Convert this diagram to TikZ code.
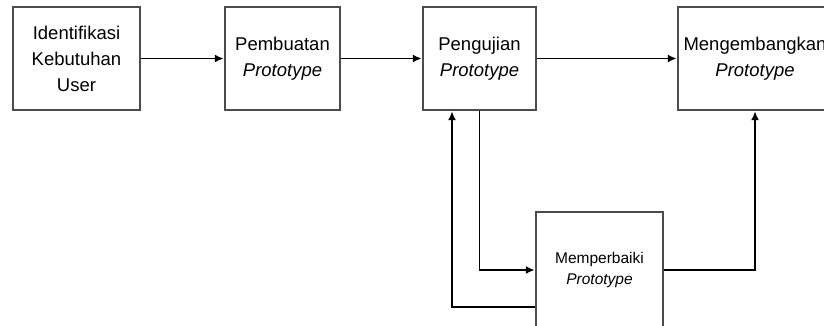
\documentclass[tikz,border=0pt]{standalone}
\usepackage{fontspec}
\setmainfont{Liberation Sans}
\usetikzlibrary{arrows.meta}

\begin{document}
\begin{tikzpicture}[x=1pt,y=-1pt,
		box/.style={draw=black!70, line width=2.4pt, align=center, inner sep=0pt,
			font=\fontsize{18.5}{26}\selectfont},
		arr/.style={line width=1.8pt, -{Latex[length=9pt,width=8pt]}}]
				\useasboundingbox (0,0) rectangle (824,326);
				\clip (0,0) rectangle (824,326);
				\node[box, minimum width=127pt, minimum height=103pt] (ident) at (76.5,58.5) {Identifikasi\\Kebutuhan\\User};
				\node[box, minimum width=115pt, minimum height=103pt] (buat) at (282.5,58.5) {Pembuatan\\\textit{Prototype}};
				\node[box, minimum width=113pt, minimum height=103pt] (uji) at (479.5,58.5) {Pengujian\\\textit{Prototype}};
				\node[box, minimum width=154pt, minimum height=103pt] (kembang) at (755,58.5) {Mengembangkan\\\textit{Prototype}};
				\node[box, minimum width=127pt, minimum height=116pt, font=\fontsize{15.5}{21}\selectfont] (baiki) at (599.5,270) {Memperbaiki\\\textit{Prototype}};
				\draw[arr] (ident) -- (buat);
				\draw[arr] (buat) -- (uji);
				\draw[arr] (uji) -- (kembang);
				\draw[arr] (uji.south) |- (baiki.west);
				\draw[arr] ([yshift=-37pt]baiki.west) -| ([xshift=-27.5pt]uji.south);
				\draw[arr] (baiki.east) -| (kembang.south);
			\end{tikzpicture}
\end{document}
